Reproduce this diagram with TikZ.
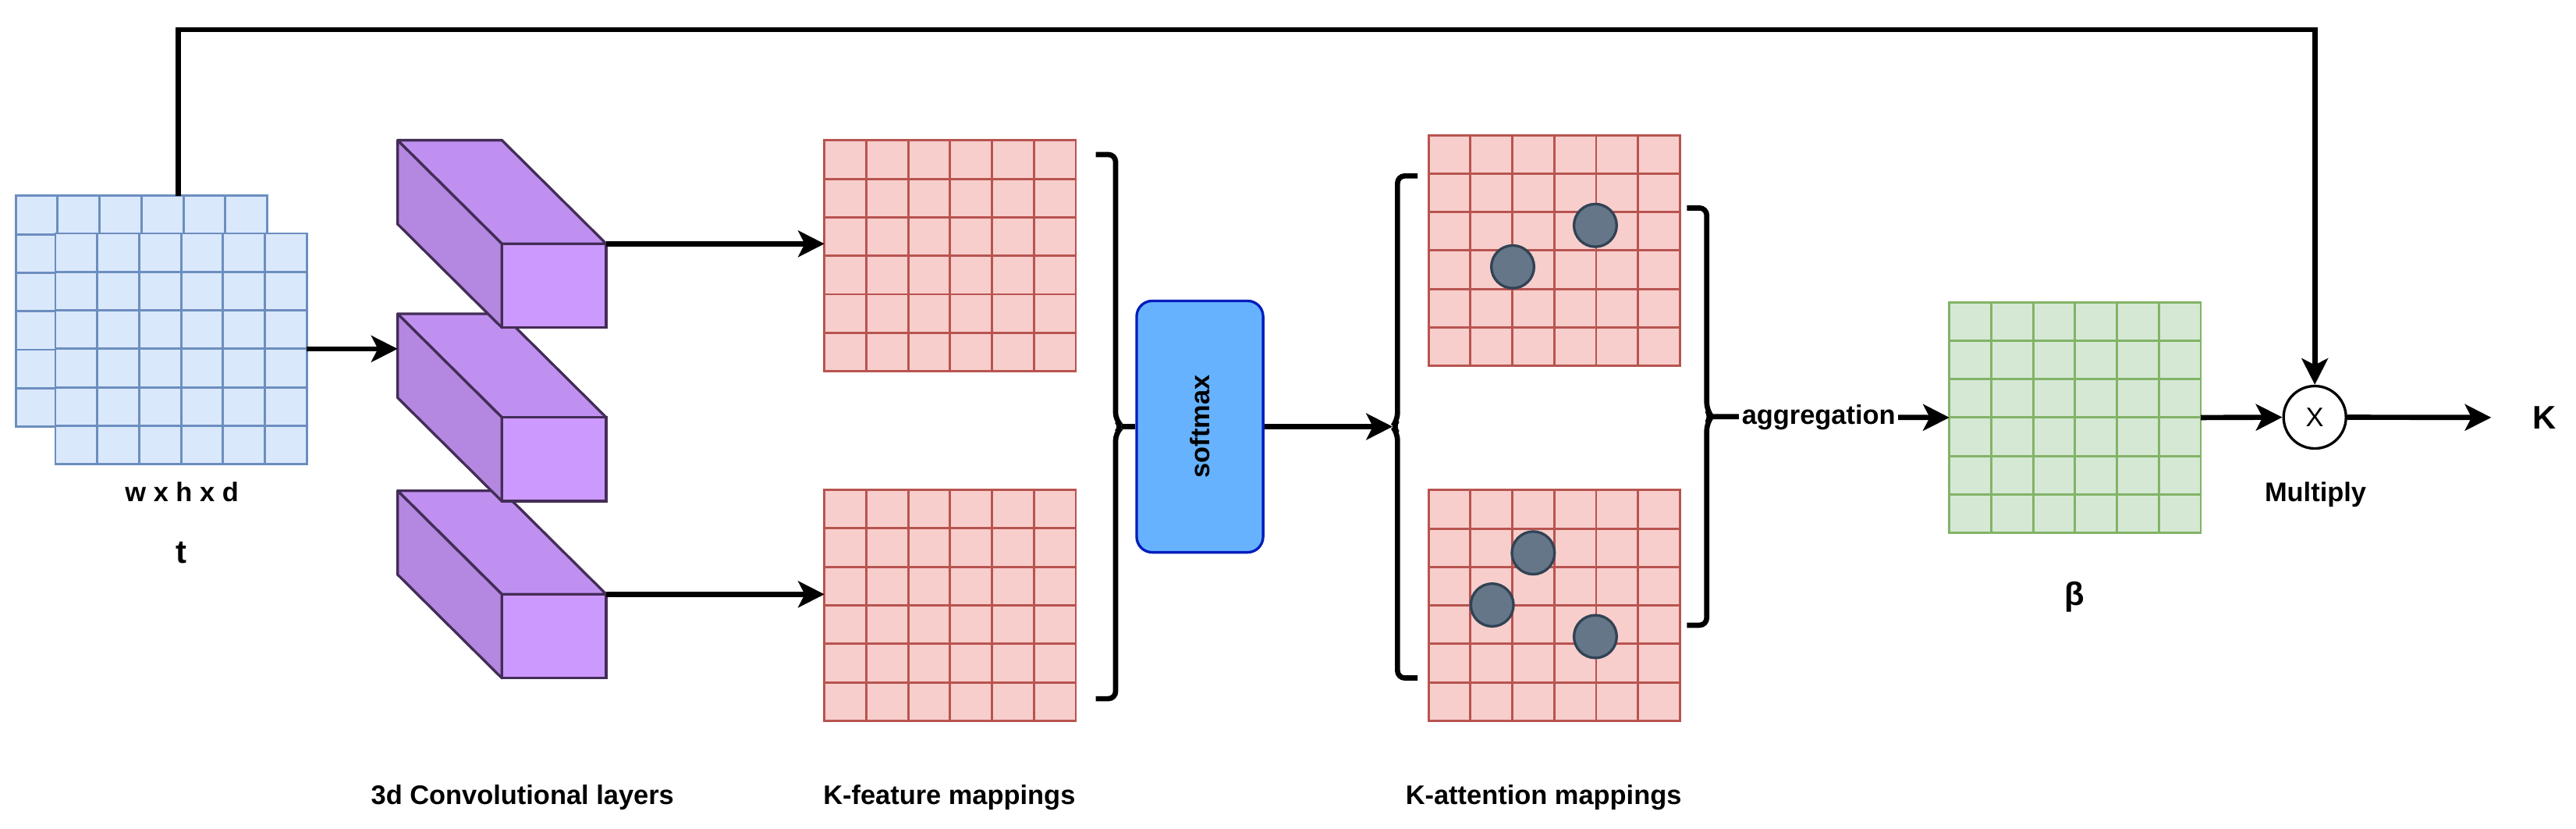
\documentclass[tikz,border=0pt]{standalone}
\usepackage{fontspec}
\setmainfont{Liberation Sans}
\usetikzlibrary{arrows.meta,calc}
\definecolor{bluefill}{HTML}{DAE8FC}
\definecolor{bluegrid}{HTML}{6C8EBF}
\definecolor{redfill}{HTML}{F8CECC}
\definecolor{redgrid}{HTML}{B85450}
\definecolor{greenfill}{HTML}{D5E8D4}
\definecolor{greengrid}{HTML}{82B366}
\definecolor{smfill}{HTML}{66B2FF}
\definecolor{smline}{HTML}{001DBC}
\definecolor{dotfill}{HTML}{647687}
\definecolor{dotline}{HTML}{314354}
\definecolor{cubefill}{HTML}{CC99FF}
\definecolor{cubeline}{HTML}{432D57}
\tikzset{
  cells/.style={draw=#1, line width=0.8pt, inner sep=0pt, outer sep=0pt,
    minimum width=3.06cm, minimum height=2.81cm,
    path picture={\foreach \k in {1,...,5}{
      \draw[#1,line width=0.8pt]
        ($(path picture bounding box.north west)!\k/6!(path picture bounding box.north east)$) --
        ($(path picture bounding box.south west)!\k/6!(path picture bounding box.south east)$);
      \draw[#1,line width=0.8pt]
        ($(path picture bounding box.north west)!\k/6!(path picture bounding box.south west)$) --
        ($(path picture bounding box.north east)!\k/6!(path picture bounding box.south east)$);}}},
  bluemap/.style={cells=bluegrid, fill=bluefill},
  redmap/.style={cells=redgrid, fill=redfill},
  greenmap/.style={cells=greengrid, fill=greenfill},
  lbl/.style={font=\fontsize{9.3}{11}\selectfont\bfseries},
  biglbl/.style={font=\fontsize{11.3}{13}\selectfont\bfseries},
  arr/.style={line width=1.8pt, -{Stealth[length=0.32cm,width=0.32cm,inset=0.08cm]}},
  brace/.style={line width=1.8pt, rounded corners=2.5pt},
  dot/.style={circle, draw=dotline, fill=dotfill, line width=0.9pt,
    minimum size=0.52cm, inner sep=0pt}
}
\begin{document}
\begin{tikzpicture}[x=0.02cm,y=-0.02cm]
  \useasboundingbox (0,0) rectangle (1567.9,503.8);
  % input volume
  \node[bluemap] (tb) at (86.1,189.3) {};
  \node[bluemap] (tf) at (110.2,212.2) {};
  \coordinate (tap) at (108.6,119.1);
  \node[lbl] (dims) at (110.7,299) {w x h x d};
  \node[biglbl] (tname) at (110.2,336) {t};
  % convolution blocks
  \foreach \y/\n in {298.5/c3,190.9/c2,85.3/c1}{
    \filldraw[fill=cubefill!94!black, draw=cubeline, line width=0.9pt, line join=round]
      (242,\y) -- (305.5,\y) -- (369,\y+63) -- (305.5,\y+63) -- cycle;
    \filldraw[fill=cubefill!88!black, draw=cubeline, line width=0.9pt, line join=round]
      (242,\y) -- (305.5,\y+63) -- (305.5,\y+114) -- (242,\y+51) -- cycle;
    \filldraw[fill=cubefill, draw=cubeline, line width=0.9pt]
      (305.5,\y+63) rectangle (369,\y+114);
    \coordinate (\n) at (369,\y+63);
    \coordinate (\n l) at (242,\y);
  }
  % feature maps
  \node[redmap] (f1) at (578.3,155.6) {};
  \node[redmap] (f2) at (578.3,368.2) {};
  \draw[arr] (tf.east) -- (tf.east -| c2l);
  \draw[arr] (c1) -- (c1 -| f1.west);
  \draw[arr] (c3) -- (c3 -| f2.west);
  \draw[brace] (667,94) -- (679,94) -- (679,255.5) -- (683,259.5)
    -- (679,263.5) -- (679,425) -- (667,425);
  \coordinate (b1) at (683,259.5);
  \node[draw=smline, fill=smfill, line width=0.9pt, rounded corners=0.19cm,
    minimum width=1.54cm, minimum height=3.06cm, inner sep=0pt]
    (sm) at (730.3,259.5) {};
  \node[lbl, rotate=90] at (sm) {softmax};
  \draw[line width=1.8pt] (b1) -- (sm.west);
  % attention maps
  \draw[brace] (862.8,107) -- (850.6,107) -- (850.6,255.5) -- (847.6,259.5)
    -- (850.6,263.5) -- (850.6,412.4) -- (862.8,412.4);
  \coordinate (b2) at (847.6,259.5);
  \draw[arr] (sm.east) -- (b2);
  \node[redmap] (a1) at (946,152.4) {};
  \node[redmap] (a2) at (946,368.3) {};
  \foreach \p/\q [count=\i] in {920.7/162.3,971/137.1,933.2/336.3,908.2/368,971/387.2}
    \node[dot] (d\i) at (\p,\q) {};
  \draw[brace] (1026.7,126.5) -- (1038.8,126.5) -- (1038.8,249.4) -- (1041.8,253.4)
    -- (1038.8,257.4) -- (1038.8,380.3) -- (1026.7,380.3);
  \coordinate (b3) at (1041.8,253.4);
  % aggregation and output
  \node[greenmap] (beta) at (1263,254) {};
  \draw[arr] (b3) -- node[lbl, pos=0.45, fill=white, inner sep=1pt] {aggregation} (beta.west);
  \node[biglbl] (betaname) at (1262.7,363) {β};
  \node[circle, draw, line width=0.9pt, minimum size=0.76cm, inner sep=0pt,
    font=\fontsize{9.3}{11}\selectfont] (mul) at (1408.9,253.8) {X};
  \node[lbl] (mulname) at (1409.3,301) {Multiply};
  \node[biglbl, inner sep=0pt] (kout) at (1548.8,254) {K};
  \draw[arr] (beta.east) -- (mul.west);
  \draw[arr, shorten >=0.5cm] (mul.east) -- (kout.west);
  \draw[arr] (tap) -- ++(0,-101.1) -| (mul.north);
  % bottom captions
  \node[lbl] (convname) at (318,485) {3d Convolutional layers};
  \node[lbl] (featname) at (577.8,485) {K-feature mappings};
  \node[lbl] (attname) at (939.5,485) {K-attention mappings};
\end{tikzpicture}
\end{document}
